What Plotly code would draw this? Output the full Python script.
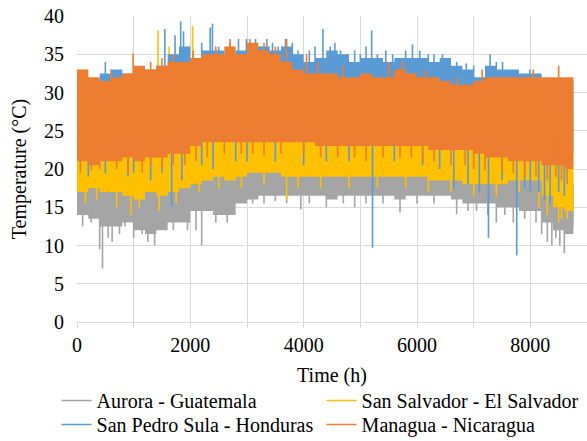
import plotly.graph_objects as go

# ---------------- data ----------------
hours = [0, 200, 400, 600, 800, 1000, 1200, 1400, 1600, 1800,
         2000, 2200, 2400, 2600, 2800, 3000, 3200, 3400, 3600, 3800,
         4000, 4200, 4400, 4600, 4800, 5000, 5200, 5400, 5600, 5800,
         6000, 6200, 6400, 6600, 6800, 7000, 7200, 7400, 7600, 7800,
         8000, 8200, 8400, 8600, 8760]

# Aurora - Guatemala (lower / upper envelope of hourly values)
aurora_lo = [14, 13.5, 12.5, 12.5, 13, 12, 11.5, 12, 13, 13,
             14.5, 14.5, 14, 14, 15.5, 16, 16.5, 16.5, 16.5, 16.5,
             16.5, 16.5, 16, 16.5, 16.5, 16.5, 16.5, 16.5, 16, 16.5,
             16.5, 16.5, 16.5, 16, 15.5, 15.5, 15.5, 15, 15, 14.5,
             14.5, 13, 12, 11.5, 13.5]
aurora_hi = [20, 20, 19.5, 19.5, 20, 19.5, 20, 20, 20.5, 20.5,
             21, 21.5, 21.5, 21.5, 22, 22, 22, 22, 22, 22,
             22, 22, 22, 22, 22, 22, 22, 22, 22, 22,
             22, 22, 21.5, 21.5, 21, 21, 21, 21, 21, 21,
             21, 20.5, 20, 19.5, 19.5]
aurora_dip_h = [100, 250, 400, 450, 550, 620, 750, 850, 1000, 1150,
                1250, 1370, 1550, 1700, 1950, 2100, 2200, 2450, 2650, 2750,
                3100, 3300, 3500, 3700, 3950, 4100, 4400, 4700, 4900, 5100,
                5400, 5700, 6000, 6300, 6700, 6900, 7050, 7250, 7400, 7550,
                7700, 7900, 8100, 8200, 8300, 8380, 8450, 8520, 8600, 8700,
                8750]
aurora_dip_t = [12.5, 13, 9.5, 7.0, 11, 10.5, 11.5, 12.5, 11, 11.5,
                10.5, 10, 12.5, 12, 12, 12, 10, 13, 13, 14.5,
                15.5, 15.5, 15.8, 15.5, 14.7, 15.5, 15, 15.5, 15, 15.5,
                15.5, 14.3, 15.5, 15.5, 14.1, 14.5, 14.5, 14, 13, 14,
                13, 13.5, 13, 11.5, 10.5, 10, 11, 10, 9, 13,
                12.5]

# San Salvador - El Salvador
salvador_lo = [17, 17.5, 17, 17, 16.5, 16, 17, 16.5, 17, 17.5,
               18, 18.5, 19, 18.5, 19, 19.5, 19.5, 19.5, 19, 19,
               19, 19, 19, 19, 19, 19, 19, 19, 19, 19,
               19, 18.5, 18.5, 18.5, 18, 18, 18, 18, 18.5, 18.5,
               18.5, 16.5, 15, 14.5, 16]
salvador_hi = [27, 27, 27, 27.5, 27.5, 28, 28, 28.5, 29, 29,
               29.5, 29.5, 29.5, 29.5, 29.5, 29.5, 29, 29, 29, 29,
               29, 29, 28.5, 28.5, 28.5, 28.5, 28.5, 28.5, 28.5, 28.5,
               28.5, 28.5, 28, 28, 28, 28, 28, 28, 28, 28,
               28, 27.5, 27.5, 27, 27]
salvador_peak_h = [1430, 1625, 2040]
salvador_peak_t = [38.1, 36, 38.7]
salvador_dip_h = [150, 350, 700, 950, 1100, 1450, 1750, 2150, 2500, 2900,
                  3300, 3700, 3900, 4300, 4800, 5300, 5800, 6200, 6600, 7000,
                  7400, 7800, 8150, 8300, 8500, 8550, 8650]
salvador_dip_t = [15.5, 16, 15, 14, 15, 14.5, 15.5, 17, 17.5, 17.5,
                  18, 16, 17.5, 17.5, 17.5, 17.5, 17.5, 17, 17, 16.5,
                  16.5, 17, 15, 14, 13, 13.5, 13.5]

# San Pedro Sula - Honduras
sula_lo = [23, 23, 23, 23, 23, 23, 23.5, 23.5, 24, 24,
           24.5, 25, 25, 25, 25, 25, 25, 25, 25, 25,
           25, 25, 24.5, 24.5, 24.5, 24.5, 24.5, 24.5, 24.5, 24.5,
           24.5, 24, 24, 24, 24, 23.5, 23.5, 23, 23, 23,
           23, 22.5, 22.5, 22, 22.5]
sula_hi = [32, 31.5, 32.5, 33, 32.5, 33, 33, 33.5, 35, 36,
           34.5, 35.5, 35.5, 35, 35.5, 36, 36, 35.5, 36, 35,
           34, 34.5, 35.5, 35, 34, 34.5, 34.5, 34, 34.5, 34.5,
           34.5, 34, 34.5, 33.5, 33, 32, 33.5, 33, 33, 32.5,
           32.5, 31.5, 31.5, 31.5, 31]
sula_peak_h = [500, 1550, 1730, 1830, 1880, 2200, 2350, 2390, 2500, 2700,
               2850, 2990, 3050, 3150, 3250, 3350, 3450, 3550, 3680, 3800,
               3900, 4100, 4200, 4340, 4470, 4550, 4650, 4900, 5000, 5100,
               5200, 5300, 5450, 5570, 5650, 5800, 5920, 6050, 6200, 6300,
               6450, 6550, 6700, 6870, 7000, 7290, 7400, 7510, 7990]
sula_peak_t = [34, 38.3, 37.5, 39.3, 38, 36.5, 38.5, 39, 36, 36.5,
               37, 37, 36.5, 37, 36, 37, 36.5, 36, 37, 36.5,
               35.5, 35.5, 36, 38.3, 36, 36.5, 35.5, 35.5, 35, 36,
               38.1, 35, 35.5, 35, 34.5, 35.5, 36.3, 35.5, 35, 35,
               35, 34.5, 34, 33.8, 33.5, 35, 34, 34, 33]
sula_dip_h = [200, 500, 900, 1000, 1300, 1500, 1670, 1850, 2200, 2400,
              2800, 3000, 3500, 4000, 4400, 4800, 5215, 5600, 6100, 6400,
              6650, 6900, 7100, 7261, 7500, 7760, 7900, 8000, 8150, 8250,
              8350, 8500, 8600]
sula_dip_t = [19, 19.5, 19, 19.5, 18.5, 19.5, 15.1, 18.5, 20.5, 20,
              21, 21, 21, 20.5, 21, 21, 9.7, 21, 20.5, 20,
              17.5, 18, 17, 11.0, 18.5, 8.7, 17.5, 17, 17, 16,
              15.5, 17, 16.5]

# Managua - Nicaragua
managua_lo = [21, 20.5, 21, 21, 21.5, 21, 21.5, 21.5, 22, 22,
              23, 23.5, 23.5, 23.5, 23.5, 23.5, 23.5, 23.5, 23.5, 23.5,
              23.5, 23, 23, 23, 23, 23, 23, 23, 23, 23,
              23, 22.5, 22.5, 22.5, 22.5, 22, 21.5, 21.5, 21, 21,
              21, 20.5, 20.5, 20, 20.5]
managua_hi = [33, 32, 31.5, 32, 32.5, 33.5, 33, 33.5, 34, 34,
              34.5, 35, 35, 36, 35, 36.5, 35.5, 35, 34, 33,
              32.5, 32.5, 32.5, 32, 32, 32.5, 32, 32, 33, 32.5,
              32, 32, 31.5, 31, 31, 31.5, 32, 32, 32, 32,
              32, 32, 32, 32, 32]
managua_peak_h = [150, 600, 990, 1300, 1500, 1700, 2050, 2450, 2700, 3050,
                  3300, 3500, 3700, 4050, 4250, 4700, 5500, 5750, 6150, 6700,
                  7150, 8050, 8500]
managua_peak_t = [33, 33, 35.1, 34, 34.5, 35, 35.5, 36, 37, 37,
                  36.5, 36, 37, 35, 34, 33.5, 34, 34, 33, 32,
                  33, 33, 33.5]
managua_dip_h = [60, 250, 400, 700, 900, 1150, 1300, 1500, 1700, 1900,
                 2100, 2300, 2600, 2900, 3100, 3300, 3600, 4000, 4300, 4600,
                 4900, 5100, 5400, 5700, 5900, 6100, 6300, 6600, 6850, 7000,
                 7200, 7500, 7700, 7900, 8100, 8300, 8450, 8550, 8650]
managua_dip_t = [19.5, 19.8, 20, 20, 19.5, 19.5, 20.5, 20, 20.5, 20.5,
                 21, 21.5, 22, 22, 22, 21.8, 22, 22, 21.5, 21.5,
                 21.5, 21, 21.5, 21.5, 21.5, 21, 21, 20.5, 20.5, 20,
                 19.8, 19.5, 19.5, 19, 19, 18.5, 19, 18.5, 18]

names = ["Aurora - Guatemala", "San Salvador - El Salvador",
         "San Pedro Sula - Honduras", "Managua - Nicaragua"]
colors = ["#A5A5A5", "#FFC000", "#5B9BD5", "#ED7D31"]
legend_rows = ["legend", "legend", "legend2", "legend2"]

x_ticks = [0, 2000, 4000, 6000, 8000]
y_ticks = [0, 5, 10, 15, 20, 25, 30, 35, 40]

# ---------------- figure ----------------
fig = go.Figure()


def add_band(lo, hi, color):
    fig.add_trace(go.Scatter(x=hours, y=lo, mode="lines", line=dict(width=0, color=color, shape="hv"),
                             showlegend=False, hoverinfo="skip"))
    fig.add_trace(go.Scatter(x=hours, y=hi, mode="lines", line=dict(width=0, color=color, shape="hv"),
                             fill="tonexty", fillcolor=color, showlegend=False, hoverinfo="skip"))


def add_spikes(hs, ts, base, color):
    xs, ys = [], []
    for h, t in zip(hs, ts):
        xs += [h, h, None]
        ys += [base, t, None]
    fig.add_trace(go.Scatter(x=xs, y=ys, mode="lines", line=dict(width=1.6, color=color),
                             showlegend=False, hoverinfo="skip", connectgaps=False))


add_band(aurora_lo, aurora_hi, colors[0])
add_spikes(aurora_dip_h, aurora_dip_t, 18, colors[0])

add_band(salvador_lo, salvador_hi, colors[1])
add_spikes(salvador_peak_h, salvador_peak_t, 27, colors[1])
add_spikes(salvador_dip_h, salvador_dip_t, 20, colors[1])

add_band(sula_lo, sula_hi, colors[2])
add_spikes(sula_peak_h, sula_peak_t, 30, colors[2])
add_spikes(sula_dip_h, sula_dip_t, 24, colors[2])

add_band(managua_lo, managua_hi, colors[3])
add_spikes(managua_peak_h, managua_peak_t, 30, colors[3])
add_spikes(managua_dip_h, managua_dip_t, 25, colors[3])

for n, c, lg in zip(names, colors, legend_rows):
    fig.add_trace(go.Scatter(x=[None], y=[None], mode="lines", name=n, legend=lg,
                             line=dict(color=c, width=1.5)))

font = dict(family="Liberation Serif", size=20, color="#000000")
grid = "#D9D9D9"

legend_common = dict(orientation="h", x=-0.04, xanchor="left", yanchor="top",
                     entrywidth=220, entrywidthmode="pixels", font=font, traceorder="normal",
                     itemwidth=30, bgcolor="rgba(0,0,0,0)")

fig.update_layout(
    width=587, height=441,
    margin=dict(l=77, r=0, t=16, b=119, autoexpand=False),
    paper_bgcolor="white", plot_bgcolor="white",
    font=font,
    showlegend=True,
    legend=dict(y=-0.193, **legend_common),
    legend2=dict(y=-0.271, **legend_common),
)
fig.update_xaxes(range=[0, 9000], tickvals=x_ticks, ticktext=[str(v) for v in x_ticks],
                 showgrid=True, gridcolor=grid, gridwidth=1,
                 minor=dict(dtick=1000, tick0=0, showgrid=True, gridcolor=grid, ticks="outside",
                            ticklen=5, tickcolor=grid),
                 ticks="outside", ticklen=5, tickcolor=grid,
                 showline=True, linecolor=grid, zeroline=False,
                 title=dict(text="Time (h)", font=font, standoff=12),
                 tickfont=font, ticklabelstandoff=0, ticklabeloverflow="allow")
fig.update_yaxes(range=[0, 40], tickvals=y_ticks, showgrid=True, gridcolor=grid, gridwidth=1,
                 zeroline=False, showline=False, ticks="", ticklabelstandoff=12,
                 ticklabeloverflow="allow",
                 title=dict(text="Temperature (°C)", font=font, standoff=12),
                 tickfont=font)

# remove the browser's default 8px body margin so the figure fills the window exactly
fig.write_html("out.html", config={"displayModeBar": False},
               post_script="document.body.style.margin='0px';document.body.style.overflow='hidden';")
